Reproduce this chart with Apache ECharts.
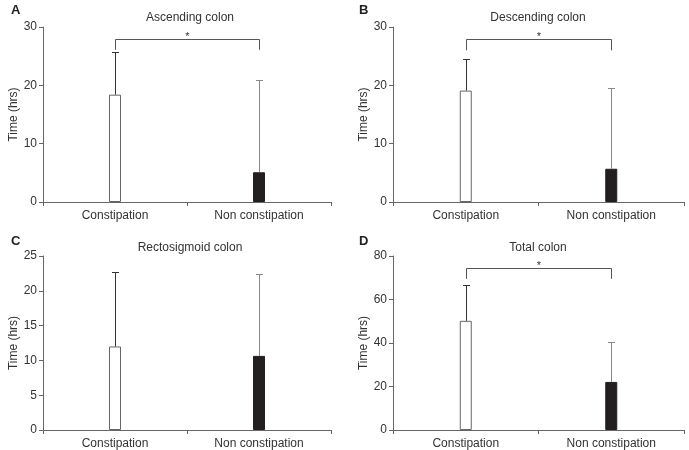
<!DOCTYPE html>
<html><head><meta charset="utf-8">
<script src="https://cdn.jsdelivr.net/npm/echarts@6/dist/echarts.min.js"></script>
<style>html,body{margin:0;padding:0;background:#fff}#c{width:689px;height:450px}</style>
</head><body><div id="c"></div>
<script>
const categories = ['Constipation', 'Non constipation'];
const panelLetters = ['A', 'B', 'C', 'D'];
const panelTitles = ['Ascending colon', 'Descending colon', 'Rectosigmoid colon', 'Total colon'];
const yMaxes = [30, 30, 25, 80];
const yIntervals = [10, 10, 5, 20];
const ascendingMean = [18.4, 5.1];
const ascendingUpper = [25.7, 21.0];
const descendingMean = [19.1, 5.7];
const descendingUpper = [24.6, 19.5];
const rectosigmoidMean = [12.0, 10.65];
const rectosigmoidUpper = [22.7, 22.45];
const totalMean = [50.2, 22.1];
const totalUpper = [66.5, 40.6];
// significance bracket: [bracket level, leg end level] or null
const bracketA = [27.9, 26.1];
const bracketB = [27.9, 26.0];
const bracketC = null;
const bracketD = [74.5, 69.5];
const significanceMark = '*';

const means = [ascendingMean, descendingMean, rectosigmoidMean, totalMean];
const uppers = [ascendingUpper, descendingUpper, rectosigmoidUpper, totalUpper];
const brackets = [bracketA, bracketB, bracketC, bracketD];

const FONT = '"Liberation Sans", Arial, Helvetica, sans-serif';
const grids = [
  {left: 43, top: 27, width: 288, height: 175},
  {left: 393, top: 27, width: 291, height: 175},
  {left: 43, top: 256, width: 288, height: 176},
  {left: 393, top: 256, width: 291, height: 176}
];
const titlePos = [
  {x: 190, y: 12}, {x: 538, y: 12}, {x: 190, y: 242}, {x: 538, y: 242}
];
const letterPos = [
  {x: 6, y: -1}, {x: 354, y: -1}, {x: 6, y: 230}, {x: 354, y: 230}
];

const chart = echarts.init(document.getElementById('c'), null, {renderer: 'canvas'});
const title = [];
panelTitles.forEach((t, i) => {
  title.push({text: t, left: titlePos[i].x, top: titlePos[i].y, textAlign: 'center', padding: 0,
    textStyle: {fontFamily: FONT, fontSize: 12, fontWeight: 'normal', color: '#333'}});
  title.push({text: panelLetters[i], left: letterPos[i].x, top: letterPos[i].y,
    textStyle: {fontFamily: FONT, fontSize: 13, fontWeight: 'bold', color: '#222'}});
});
const axisLine = {show: true, lineStyle: {color: '#666', width: 1}};
const xAxis = grids.map((g, i) => ({
  type: 'category', gridIndex: i, data: categories,
  axisLine, axisTick: {show: true, inside: false, length: 4, lineStyle: {color: '#666'}},
  axisLabel: {fontFamily: FONT, fontSize: 12, color: '#333', margin: 8}
}));
const yAxis = grids.map((g, i) => ({
  type: 'value', gridIndex: i, min: 0, max: yMaxes[i], interval: yIntervals[i],
  name: 'Time (hrs)', nameLocation: 'middle', nameGap: 23,
  nameTextStyle: {fontFamily: FONT, fontSize: 12, color: '#333'},
  axisLine, axisTick: {show: true, inside: false, length: 4, lineStyle: {color: '#666'}},
  axisLabel: {fontFamily: FONT, fontSize: 12, color: '#333', margin: 6},
  splitLine: {show: false}
}));
const series = [];
means.forEach((m, i) => {
  series.push({
    type: 'bar', xAxisIndex: i, yAxisIndex: i, barWidth: 12,
    data: m.map((v, k) => ({value: v, itemStyle: k === 0
      ? {color: '#fff', borderColor: '#666', borderWidth: 1}
      : {color: '#231f20', borderColor: '#231f20', borderWidth: 1}})),
    silent: true, animation: false
  });
  series.push({
    type: 'custom', xAxisIndex: i, yAxisIndex: i, z: 5,
    data: m.map((v, k) => [k, v, uppers[i][k]]),
    renderItem: (params, api) => {
      const x = api.value(0);
      const b = api.coord([x, api.value(1)]);
      const t = api.coord([x, api.value(2)]);
      const col = params.dataIndex === 0 ? '#333' : '#888';
      const px = Math.round(b[0]) + 0.5, ty = Math.round(t[1]) + 0.5;
      return {type: 'group', children: [
        {type: 'line', shape: {x1: px, y1: b[1], x2: px, y2: ty}, style: {stroke: col, lineWidth: 1}},
        {type: 'line', shape: {x1: px - 3.5, y1: ty, x2: px + 3.5, y2: ty}, style: {stroke: col, lineWidth: 1}}
      ]};
    },
    silent: true, animation: false
  });
  const br = brackets[i];
  if (br) {
    series.push({
      type: 'custom', xAxisIndex: i, yAxisIndex: i, z: 5,
      data: [[0, 1, br[0], br[1]]],
      renderItem: (params, api) => {
        const l = api.coord([api.value(0), api.value(2)]);
        const r = api.coord([api.value(1), api.value(2)]);
        const legL = api.coord([api.value(0), api.value(3)]);
        const y = Math.round(l[1]) + 0.5;
        const lx = Math.round(l[0]) + 0.5, rx = Math.round(r[0]) + 0.5;
        return {type: 'group', children: [
          {type: 'polyline', shape: {points: [[lx, legL[1]], [lx, y], [rx, y], [rx, legL[1]]]},
            style: {stroke: '#555', lineWidth: 1, fill: null}},
          {type: 'text', x: (lx + rx) / 2, y: y - 3, style: {text: significanceMark,
            align: 'center', verticalAlign: 'middle', font: '11px ' + FONT, fill: '#333'}}
        ]};
      },
      silent: true, animation: false
    });
  }
});
chart.setOption({animation: false, title, grid: grids, xAxis, yAxis, series});
</script></body></html>
